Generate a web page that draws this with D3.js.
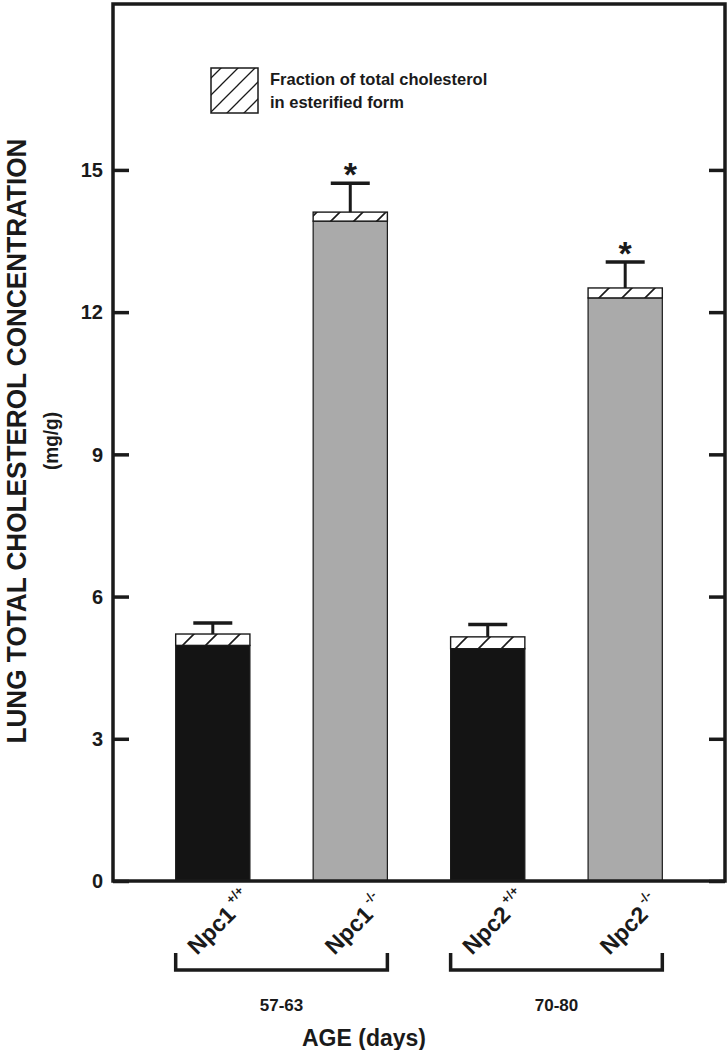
<!DOCTYPE html>
<html>
<head>
<meta charset="utf-8">
<script src="https://cdn.jsdelivr.net/npm/d3@7/dist/d3.min.js"></script>
<style>
  html, body { margin: 0; padding: 0; background: #fff; }
  svg { display: block; }
  text { font-family: "Liberation Sans", Arial, sans-serif; font-weight: bold; fill: #1a1a1a; }
</style>
</head>
<body>
<svg id="chart" width="728" height="1050"></svg>
<script>
// ---- data ----
const categories   = ["Npc1 +/+", "Npc1 -/-", "Npc2 +/+", "Npc2 -/-"];
const labelMain    = ["Npc1", "Npc1", "Npc2", "Npc2"];
const labelSup     = ["+/+", "-/-", "+/+", "-/-"];
const genotype     = ["wt", "ko", "wt", "ko"];
const freeChol     = [4.97, 13.92, 4.90, 12.30];   // unesterified part (solid bar)
const totalChol    = [5.21, 14.11, 5.15, 12.51];   // top of hatched part
const errorTop     = [5.44, 14.72, 5.41, 13.06];   // top of error bar
const significant  = [false, true, false, true];
const ageGroups    = ["57-63", "70-80"];
const groupMembers = [[0, 1], [2, 3]];
const yTicks       = [0, 3, 6, 9, 12, 15];
const yMax         = 18.5;
const legendLines  = ["Fraction of total cholesterol", "in esterified form"];
const yTitle       = "LUNG TOTAL CHOLESTEROL CONCENTRATION";
const yUnit        = "(mg/g)";
const xTitle       = "AGE (days)";

(function () {
// ---- layout ----
const svg = d3.select("#chart");
const pL = 113, pR = 725, pT = 4, pB = 881;
const ink = "#1a1a1a";

const y = d3.scaleLinear().domain([0, yMax]).range([pB, pT]);
const x = d3.scaleBand().domain(categories).range([pL, pR])
  .paddingInner(0.46).paddingOuter(0.456);
const fillFor = { wt: "#141414", ko: "#aaaaaa" };

// patterns
const defs = svg.append("defs");
function hatch(id, s, w) {
  const p = defs.append("pattern").attr("id", id).attr("patternUnits", "userSpaceOnUse")
    .attr("width", s).attr("height", s);
  p.append("rect").attr("width", s).attr("height", s).attr("fill", "#fff");
  p.append("path").attr("d", `M-2,${s + 2}L${s + 2},-2M-2,2L2,-2M${s - 2},${s + 2}L${s + 2},${s - 2}`)
    .attr("stroke", ink).attr("stroke-width", w);
}
hatch("hatchBar", 23, 1.6);
hatch("hatchLeg", 17, 1.3);

// bars
const bars = svg.append("g");
categories.forEach((c, i) => {
  const bx = x(c), bw = x.bandwidth();
  bars.append("rect").attr("x", bx).attr("y", y(freeChol[i]))
    .attr("width", bw).attr("height", y(0) - y(freeChol[i]))
    .attr("fill", fillFor[genotype[i]]).attr("stroke", ink).attr("stroke-width", 1.2);
  bars.append("rect").attr("x", bx).attr("y", y(totalChol[i]))
    .attr("width", bw).attr("height", y(freeChol[i]) - y(totalChol[i]))
    .attr("fill", "url(#hatchBar)").attr("stroke", ink).attr("stroke-width", 1.4);
  const cx = bx + bw / 2;
  bars.append("line").attr("x1", cx).attr("x2", cx)
    .attr("y1", y(totalChol[i])).attr("y2", y(errorTop[i]))
    .attr("stroke", ink).attr("stroke-width", 3);
  bars.append("line").attr("x1", cx - 19.5).attr("x2", cx + 19.5)
    .attr("y1", y(errorTop[i])).attr("y2", y(errorTop[i]))
    .attr("stroke", ink).attr("stroke-width", 3.5);
  if (significant[i]) {
    bars.append("text").attr("x", cx).attr("y", y(errorTop[i]) + 3)
      .attr("text-anchor", "middle").attr("font-size", 34).text("*");
  }
});

// frame
svg.append("rect").attr("x", pL).attr("y", pT).attr("width", pR - pL)
  .attr("height", pB - pT).attr("fill", "none").attr("stroke", ink).attr("stroke-width", 3.5);

// y axes (ticks inward on both sides)
const yAxisL = d3.axisRight(y).tickValues(yTicks).tickSize(16).tickFormat("");
const gL = svg.append("g").attr("transform", `translate(${pL},0)`).call(yAxisL);
const yAxisR = d3.axisLeft(y).tickValues(yTicks).tickSize(16).tickFormat("");
const gR = svg.append("g").attr("transform", `translate(${pR},0)`).call(yAxisR);
[gL, gR].forEach(g => {
  g.select(".domain").remove();
  g.selectAll(".tick line").attr("stroke", ink).attr("stroke-width", 3.5);
});
// tick labels
svg.append("g").selectAll("text").data(yTicks).join("text")
  .attr("x", 103).attr("y", d => y(d)).attr("dy", "0.36em")
  .attr("text-anchor", "end").attr("font-size", 20).text(d => d);

// y title
svg.append("text").attr("transform", `translate(26,441) rotate(-90)`)
  .attr("text-anchor", "middle").attr("font-size", 27)
  .attr("textLength", 605).attr("lengthAdjust", "spacingAndGlyphs").text(yTitle);
svg.append("text").attr("transform", `translate(58,441) rotate(-90)`)
  .attr("text-anchor", "middle").attr("font-size", 21)
  .attr("textLength", 58).attr("lengthAdjust", "spacingAndGlyphs").text(yUnit);

// x category labels (rotated)
categories.forEach((c, i) => {
  const cx = x(c) + x.bandwidth() / 2;
  const g = svg.append("g").attr("transform", `translate(${cx + 24},916) rotate(-45)`);
  g.append("text").attr("text-anchor", "end").attr("font-size", 23).text(labelMain[i]);
  g.append("text").attr("x", 4).attr("y", -12).attr("font-size", 13).text(labelSup[i]);
});

// group brackets
groupMembers.forEach((m, gi) => {
  const x0 = x(categories[m[0]]), x1 = x(categories[m[m.length - 1]]) + x.bandwidth();
  svg.append("path").attr("d", `M${x0},953V970H${x1}V953`)
    .attr("fill", "none").attr("stroke", ink).attr("stroke-width", 3.5);
  svg.append("text").attr("x", (x0 + x1) / 2).attr("y", 1011)
    .attr("text-anchor", "middle").attr("font-size", 17).text(ageGroups[gi]);
});

// x title
svg.append("text").attr("x", 364).attr("y", 1046).attr("text-anchor", "middle")
  .attr("font-size", 23).text(xTitle);

// legend
svg.append("rect").attr("x", 211).attr("y", 68).attr("width", 47).attr("height", 45)
  .attr("fill", "url(#hatchLeg)").attr("stroke", ink).attr("stroke-width", 1.5);
svg.append("g").selectAll("text").data(legendLines).join("text")
  .attr("x", 270).attr("y", (d, i) => 85 + i * 23).attr("font-size", 16.5).text(d => d);
})();
</script>
</body>
</html>
